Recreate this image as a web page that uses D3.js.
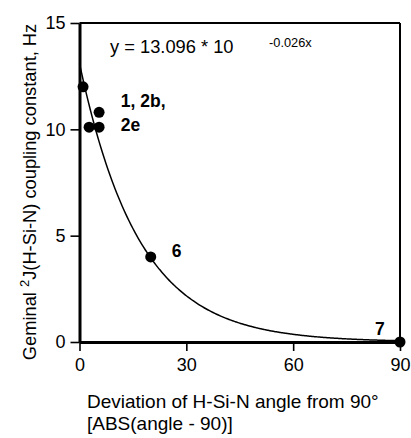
<!DOCTYPE html>
<html><head><meta charset="utf-8">
<script src="https://cdn.jsdelivr.net/npm/d3@7"></script>
<style>
body{margin:0;background:#fff;}
svg{display:block;font-family:"Liberation Sans",Arial,sans-serif;}
</style></head>
<body><svg id="c" width="411" height="438"></svg>
<script>
// Data
const xVals = [1, 2.7, 5.5, 5.5, 20, 90];
const yVals = [12.0, 10.1, 10.1, 10.8, 4.0, 0.0];
const labelTexts = ["1, 2b,", "2e", "6", "7"];
const labelX = [11.6, 11.6, 25.9, 83.0];
const labelY = [11.05, 9.9, 4.0, 0.33];
const fitA = [13.096];
const fitB = [-0.026];
const xTicks = [0, 30, 60, 90];
const yTicks = [0, 5, 10, 15];

const svg = d3.select("#c");
const x = d3.scaleLinear().domain([0, 90]).range([79.5, 400]);
const y = d3.scaleLinear().domain([0, 15]).range([342, 23]);

// frame top/right
svg.append("line").attr("x1", x(0)).attr("x2", x(90)).attr("y1", y(15)).attr("y2", y(15))
  .attr("stroke", "#000").attr("stroke-width", 2);
svg.append("line").attr("x1", x(90)).attr("x2", x(90)).attr("y1", y(15)).attr("y2", y(0))
  .attr("stroke", "#000").attr("stroke-width", 2);

// axes
const xAxis = svg.append("g").attr("transform", `translate(0,${y(0)})`)
  .call(d3.axisBottom(x).tickValues(xTicks).tickSize(9).tickSizeOuter(0).tickPadding(7));
const yAxis = svg.append("g").attr("transform", `translate(${x(0)},0)`)
  .call(d3.axisLeft(y).tickValues(yTicks).tickSize(9).tickSizeOuter(0).tickPadding(5));
[xAxis, yAxis].forEach(g => {
  g.select(".domain").attr("stroke-width", 3);
  g.selectAll(".tick line").attr("stroke-width", 1.6);
  g.selectAll(".tick text").attr("font-size", 18).attr("fill", "#000")
    .attr("font-family", "Liberation Sans, Arial, sans-serif");
});
xAxis.selectAll(".tick text").attr("dy", "0.71em");

// fit curve
const curveX = d3.range(0, 90.01, 0.5);
const line = d3.line().x(d => x(d)).y(d => y(fitA[0] * Math.pow(10, fitB[0] * d))).curve(d3.curveBasis);
svg.append("path").datum(curveX).attr("d", line).attr("fill", "none")
  .attr("stroke", "#000").attr("stroke-width", 1.5);

// points
svg.selectAll("circle.pt").data(xVals).enter().append("circle")
  .attr("class", "pt").attr("cx", (d) => x(d)).attr("cy", (d, i) => y(yVals[i]))
  .attr("r", 5.5).attr("fill", "#000");

// labels
svg.selectAll("text.lbl").data(labelTexts).enter().append("text")
  .attr("class", "lbl").attr("x", (d, i) => x(labelX[i])).attr("y", (d, i) => y(labelY[i]))
  .attr("font-size", 17.5).attr("font-weight", "bold").text(d => d);

// equation
svg.append("text").attr("x", 110).attr("y", 53).attr("font-size", 18.3).text("y = 13.096 * 10");
svg.append("text").attr("x", 269).attr("y", 46.5).attr("font-size", 12.8).text("-0.026x");

// x title
svg.append("text").attr("x", 87).attr("y", 408).attr("font-size", 19).text("Deviation of H-Si-N angle from 90°");
svg.append("text").attr("x", 87).attr("y", 430).attr("font-size", 19).text("[ABS(angle - 90)]");

// y title
const yt = svg.append("text").attr("transform", "translate(36,192) rotate(-90)")
  .attr("text-anchor", "middle").attr("font-size", 18.3);
yt.append("tspan").text("Geminal ");
yt.append("tspan").attr("font-size", 13).attr("dy", -7).text("2");
yt.append("tspan").attr("dy", 7).text("J(H-Si-N) coupling constant, Hz");
</script></body></html>
